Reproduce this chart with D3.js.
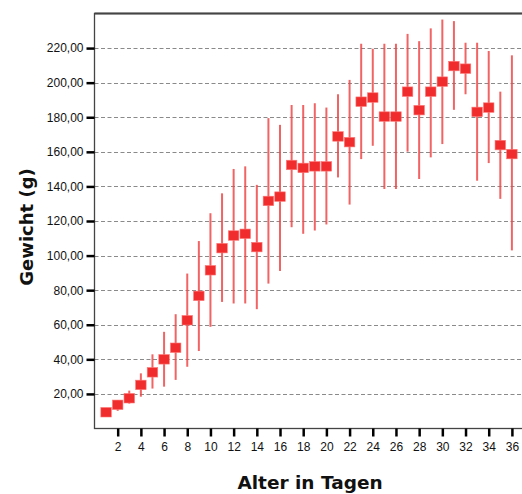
<!DOCTYPE html>
<html>
<head>
<meta charset="utf-8">
<script src="https://cdn.jsdelivr.net/npm/d3@7"></script>
<style>
  body { margin: 0; background: #fff; }
  svg { display: block; font-family: "DejaVu Sans", sans-serif; }
</style>
</head>
<body>
<svg id="chart" width="522" height="494"></svg>
<script>
const days = d3.range(1, 37);
const means = [9.4, 13.7, 17.5, 25.2, 32.5, 40.0, 46.7, 62.6, 76.7, 91.5,
  104.3, 111.6, 112.6, 104.9, 131.6, 134.1, 152.4, 150.7, 151.6, 151.6,
  168.9, 165.6, 189.0, 191.4, 180.4, 180.4, 194.8, 184.1, 194.8, 200.6,
  209.6, 208.1, 183.1, 185.6, 163.9, 158.7];
const lower = [8.5, 10.2, 14.4, 18.4, 23.1, 24.2, 28.1, 35.7, 44.8, 58.8,
  73.2, 72.3, 72.3, 69.0, 83.8, 91.1, 116.4, 112.6, 114.5, 118.0,
  145.2, 129.5, 155.8, 163.5, 138.5, 138.5, 160.1, 144.3, 156.8, 164.5,
  184.3, 193.3, 143.3, 153.5, 132.8, 103.0];
const upper = [10.5, 16.5, 21.9, 31.9, 42.9, 55.9, 66.1, 89.6, 108.4, 124.5,
  136.0, 150.1, 151.6, 140.9, 179.5, 175.6, 187.1, 187.1, 188.1, 185.6,
  193.3, 201.6, 222.5, 219.6, 222.5, 222.5, 228.2, 224.0, 231.4, 236.5,
  235.6, 223.1, 223.1, 218.3, 194.8, 215.8];
const xTicks = d3.range(2, 37, 2);
const yTicks = d3.range(20, 221, 20);

const svg = d3.select("#chart");
const m = { left: 94.5, top: 13.5, bottom: 428.5, right: 523.5 };

const x = d3.scaleLinear().domain([0, 37]).range([m.left, m.right]);
const y = d3.scaleLinear().domain([0, 240]).range([m.bottom, m.top]);

// gridlines
svg.append("g")
  .selectAll("line")
  .data(yTicks)
  .join("line")
  .attr("x1", m.left).attr("x2", m.right)
  .attr("y1", d => Math.round(y(d)) + 0.5).attr("y2", d => Math.round(y(d)) + 0.5)
  .attr("stroke", "#8a8a8a")
  .attr("stroke-dasharray", "4,2.5");

// frame
svg.append("rect")
  .attr("x", m.left).attr("y", m.top)
  .attr("width", m.right - m.left).attr("height", m.bottom - m.top)
  .attr("fill", "none")
  .attr("stroke", "#444")
  .attr("stroke-width", 1.3);
svg.append("line")
  .attr("x1", m.left).attr("x2", m.right).attr("y1", m.top).attr("y2", m.top)
  .attr("stroke", "#444").attr("stroke-width", 2);

// y axis
const yAxis = svg.append("g")
  .attr("transform", `translate(${m.left},0)`)
  .call(d3.axisLeft(y).tickValues(yTicks).tickSize(8).tickPadding(3)
    .tickFormat(d => d3.format(".2f")(d).replace(".", ",")));
yAxis.select(".domain").remove();
yAxis.selectAll(".tick line").attr("stroke", "#000").attr("stroke-width", 2.5);
yAxis.selectAll(".tick text").attr("font-size", 12).attr("fill", "#111");

// x axis
const xAxis = svg.append("g")
  .attr("transform", `translate(0,${m.bottom})`)
  .call(d3.axisBottom(x).tickValues(xTicks).tickSize(8).tickPadding(6));
xAxis.select(".domain").remove();
xAxis.selectAll(".tick line").attr("stroke", "#000").attr("stroke-width", 2.5);
xAxis.selectAll(".tick text").attr("font-size", 12).attr("fill", "#111");

// error bars
const pts = days.map((d, i) => ({ d, m: means[i], lo: lower[i], hi: upper[i] }));
svg.append("g")
  .selectAll("line")
  .data(pts)
  .join("line")
  .attr("x1", p => x(p.d)).attr("x2", p => x(p.d))
  .attr("y1", p => y(p.lo)).attr("y2", p => y(p.hi))
  .attr("stroke", "#f04848")
  .attr("stroke-opacity", 0.85)
  .attr("stroke-width", 2);

// means
const sw = 10.5, sh = 9.5;
svg.append("g")
  .selectAll("rect")
  .data(pts)
  .join("rect")
  .attr("x", p => x(p.d) - sw / 2).attr("y", p => y(p.m) - sh / 2)
  .attr("width", sw).attr("height", sh)
  .attr("fill", "#f02c2c")
  .attr("stroke", "#f77")
  .attr("stroke-width", 0.6);

// axis titles
svg.append("text")
  .attr("x", 310).attr("y", 489)
  .attr("text-anchor", "middle")
  .attr("font-size", 18.5).attr("font-weight", "bold")
  .attr("fill", "#111")
  .text("Alter in Tagen");
svg.append("text")
  .attr("transform", "translate(33,227) rotate(-90)")
  .attr("text-anchor", "middle")
  .attr("font-size", 18).attr("font-weight", "bold")
  .attr("fill", "#111")
  .text("Gewicht (g)");
</script>
</body>
</html>
